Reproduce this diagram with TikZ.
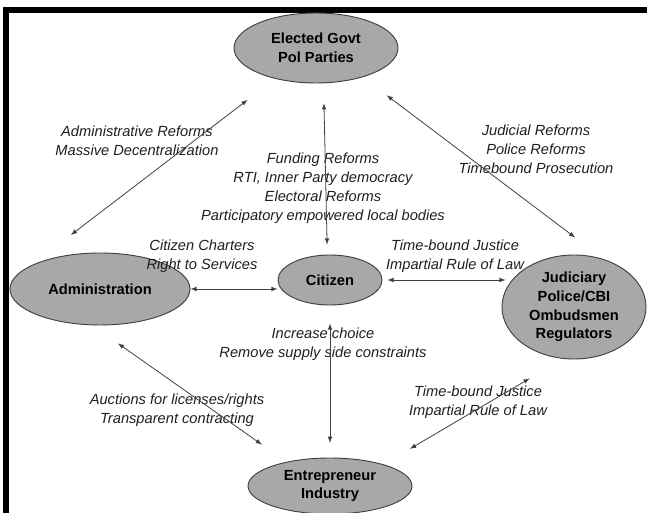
\documentclass[tikz,border=0pt]{standalone}
\usepackage{fontspec}
\setmainfont{Liberation Sans}
\usepackage{tikz}
\usetikzlibrary{arrows}
\usetikzlibrary{shapes.geometric}
\definecolor{blobgray}{RGB}{168,168,168}
\tikzset{b/.style={font=\fontsize{11}{14}\selectfont\bfseries}}
\tikzset{t/.style={font=\fontsize{11}{14.25}\selectfont\itshape, align=center, text=black!88}}
\tikzset{
blob/.style={ellipse, draw=black!75, line width=0.7pt, fill=blobgray, inner sep=0pt, align=center, b},
link/.style={<->, >=latex, draw=black!75, line width=0.6pt}
}
\begin{document}
\begin{tikzpicture}[x=0.75pt,y=-0.75pt]
    \useasboundingbox (0,0) rectangle (647,513);
    \draw[line width=4.2pt, line join=miter] (647,10) -- (6,10) -- (6,513);
    \node[blob, minimum width=123pt, minimum height=52.5pt] (govt) at (316,48) {Elected Govt\\Pol Parties};
    \node[blob, minimum width=135pt, minimum height=54pt] (admin) at (100,289) {Administration};
    \node[blob, minimum width=78pt, minimum height=37.5pt] (citizen) at (330,280) {Citizen};
    \node[blob, minimum width=108pt, minimum height=78pt] (judiciary) at (574,307) {Judiciary\\Police/CBI\\Ombudsmen\\Regulators};
    \node[blob, minimum width=123pt, minimum height=42pt] (industry) at (330,486) {Entrepreneur\\Industry};
    \node[t] (adminref) at (137,141) {Administrative Reforms\\Massive Decentralization};
    \node[t] (funding) at (323,188) {Funding Reforms\\RTI, Inner Party democracy\\Electoral Reforms\\Participatory empowered local bodies};
    \node[t] (judref) at (536,149) {Judicial Reforms\\Police Reforms\\Timebound Prosecution};
    \node[t] (charters) at (202,256) {Citizen Charters\\Right to Services};
    \node[t] (justice) at (455,256) {Time-bound Justice\\Impartial Rule of Law};
    \node[t] (choice) at (323,344) {Increase choice\\Remove supply side constraints};
    \node[t] (auctions) at (177,410) {Auctions for licenses/rights\\Transparent contracting};
    \node[t] (justicetwo) at (478,402) {Time-bound Justice\\Impartial Rule of Law};
    \draw[link, shorten <=26pt, shorten >=37.5pt] (govt.217) -- (admin.161);
    \draw[link, shorten <=15pt, shorten >=7.5pt] (govt.282) -- (citizen.96);
    \draw[link, shorten <=22.5pt, shorten >=27pt] (govt.328) -- (judiciary.58);
    \draw[link] (admin.east) -- (citizen.west |- admin.east);
    \draw[link, shorten <=3.75pt, shorten >=-3pt] (citizen.east) -- (judiciary.west |- citizen.east);
    \draw[link, shorten <=23.6pt, shorten >=22.5pt] (admin.258) -- (industry.151);
    \draw[link, shorten <=13.5pt, shorten >=11pt] (citizen.south) -- (industry.north);
    \draw[link, shorten <=29pt, shorten >=23pt] (judiciary.258) -- (industry.22);
  \end{tikzpicture}
\end{document}
